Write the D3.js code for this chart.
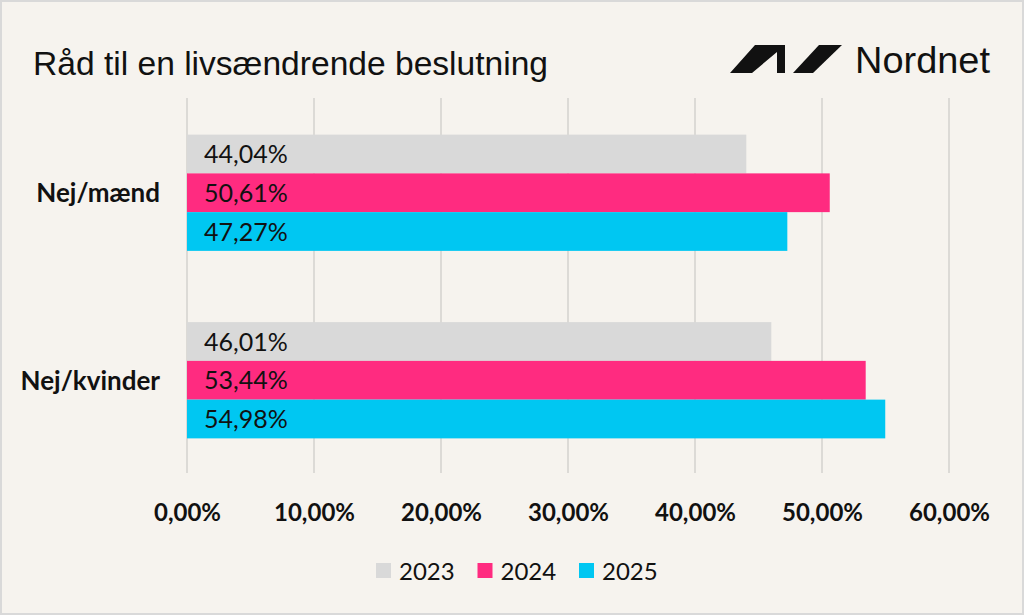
<!DOCTYPE html>
<html>
<head>
<meta charset="utf-8">
<script src="https://cdn.jsdelivr.net/npm/d3@7"></script>
<style>
  html, body { margin: 0; padding: 0; background: #f6f3ee; }
  #graph { width: 1024px; height: 615px; }
</style>
</head>
<body>
<div id="graph"></div>
<script>
var categories = ["Nej/mænd", "Nej/kvinder"],
    years = ["2023", "2024", "2025"],
    values2023 = [44.04, 46.01],
    values2024 = [50.61, 53.44],
    values2025 = [47.27, 54.98],
    xTicks = [0, 10, 20, 30, 40, 50, 60];

var couleurs = {"2023": "#d9d9d9", "2024": "#ff2b80", "2025": "#00c7f2"};

var series = {"2023": values2023, "2024": values2024, "2025": values2025};

var donnees = categories.map(function (c, i) {
    return {
        categorie: c,
        valeurs: years.map(function (a) { return {annee: a, valeur: series[a][i]}; })
    };
});

function fmt(v) {
    return v.toFixed(2).replace(".", ",") + "%";
}

var largeur = 1024, hauteur = 615;

var svg = d3.select("#graph")
    .append("svg")
        .attr("width", largeur)
        .attr("height", hauteur)
        .style("font-family", "Lato, 'Open Sans', sans-serif");

// fond + cadre
svg.append("rect")
    .attr("x", 1).attr("y", 1)
    .attr("width", largeur - 2).attr("height", hauteur - 2)
    .attr("fill", "#f6f3ee")
    .attr("stroke", "#d9d9d9")
    .attr("stroke-width", 2);

var x = d3.scaleLinear()
    .domain([0, 60])
    .range([187, 949]);

var y = d3.scaleBand()
    .domain(categories)
    .range([99, 474])
    .paddingInner(0.38)
    .paddingOuter(0.19);

var y1 = d3.scaleBand()
    .domain(years)
    .range([0, y.bandwidth()]);

// grille
svg.append("g")
    .selectAll("line")
    .data(xTicks)
    .enter()
    .append("line")
        .attr("x1", function (d) { return x(d); })
        .attr("x2", function (d) { return x(d); })
        .attr("y1", 98)
        .attr("y2", 473)
        .attr("stroke", "#dcdad6")
        .attr("stroke-width", 2);

// axe x
var axe = svg.append("g")
    .attr("transform", "translate(0,521)")
    .call(d3.axisBottom(x)
        .tickValues(xTicks)
        .tickSize(0)
        .tickPadding(0)
        .tickFormat(function (d) { return fmt(d); }));
axe.select(".domain").remove();
axe.selectAll("text")
    .attr("y", 0)
    .attr("dy", 0)
    .style("font-family", "Lato, sans-serif")
    .style("font-size", "24px")
    .style("font-weight", "bold")
    .style("fill", "#111");

// barres
var groupes = svg.selectAll(".groupe")
    .data(donnees)
    .enter()
    .append("g")
        .attr("class", "groupe")
        .attr("transform", function (d) { return "translate(0," + y(d.categorie) + ")"; });

groupes.selectAll("rect")
    .data(function (d) { return d.valeurs; })
    .enter()
    .append("rect")
        .attr("x", x(0))
        .attr("y", function (d) { return y1(d.annee); })
        .attr("width", function (d) { return x(d.valeur) - x(0); })
        .attr("height", y1.bandwidth())
        .attr("fill", function (d) { return couleurs[d.annee]; });

groupes.selectAll(".valeur")
    .data(function (d) { return d.valeurs; })
    .enter()
    .append("text")
        .attr("class", "valeur")
        .attr("x", x(0) + 17)
        .attr("y", function (d) { return y1(d.annee) + y1.bandwidth() / 2; })
        .attr("dy", "0.36em")
        .style("font-size", "25px")
        .style("fill", "#111")
        .text(function (d) { return fmt(d.valeur); });

// libellés des catégories
svg.selectAll(".categorie")
    .data(categories)
    .enter()
    .append("text")
        .attr("class", "categorie")
        .attr("x", 160)
        .attr("y", function (d) { return y(d) + y.bandwidth() / 2; })
        .attr("dy", "0.36em")
        .style("text-anchor", "end")
        .style("font-size", "26px")
        .style("font-weight", "bold")
        .style("fill", "#111")
        .text(function (d) { return d; });

// titre
svg.append("text")
    .attr("x", 33)
    .attr("y", 75)
    .attr("textLength", 515)
    .attr("lengthAdjust", "spacingAndGlyphs")
    .style("font-family", "'Liberation Sans', Arial, sans-serif")
    .style("font-size", "34px")
    .style("fill", "#111")
    .text("Råd til en livsændrende beslutning");

// logo Nordnet
var logo = svg.append("g").attr("fill", "#111");
logo.append("path").attr("d", "M730,73 L755,45 L785,45 L785,73 L777,73 L777,52 L752,73 Z");
logo.append("path").attr("d", "M793,73 L819,45 L842,45 L813,73 Z");
logo.append("text")
    .attr("x", 855)
    .attr("y", 73)
    .attr("textLength", 135)
    .attr("lengthAdjust", "spacingAndGlyphs")
    .style("font-family", "'Liberation Sans', Arial, sans-serif")
    .style("font-size", "37px")
    .style("fill", "#111")
    .text("Nordnet");

// légende
var legende = svg.selectAll(".legende")
    .data(years)
    .enter()
    .append("g")
        .attr("class", "legende")
        .attr("transform", function (d, i) { return "translate(" + (376 + i * 101.5) + ",563)"; });
legende.append("rect")
    .attr("width", 15)
    .attr("height", 15)
    .attr("fill", function (d) { return couleurs[d]; });
legende.append("text")
    .attr("x", 23)
    .attr("y", 17)
    .style("font-size", "24px")
    .style("fill", "#111")
    .text(function (d) { return d; });
</script>
</body>
</html>
